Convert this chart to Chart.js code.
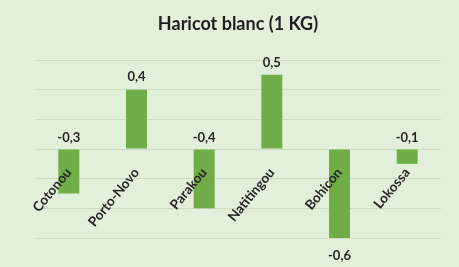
<!DOCTYPE html>
<html>
<head>
<meta charset="utf-8">
<script src="https://cdn.jsdelivr.net/npm/chart.js@4.4.1/dist/chart.umd.min.js"></script>
<style>
  html, body { margin: 0; padding: 0; background: #e2efda; }
  canvas { display: block; }
</style>
</head>
<body>
<canvas id="graphique" width="459" height="267"></canvas>
<script>
// données
const villes = ['Cotonou', 'Porto-Novo', 'Parakou', 'Natitingou', 'Bohicon', 'Lokossa'];
const variations = [-0.3, 0.4, -0.4, 0.5, -0.6, -0.1];
const axeMin = -0.6;
const axeMax = 0.6;
const axePas = 0.2;

const vert = '#70ad47';
const texte = '#262626';
const police = "Lato, 'Open Sans', 'DejaVu Sans', sans-serif";

// format français : 0,4 / -0,3
function formatVal(v) {
    return v.toFixed(1).replace('.', ',');
}

// étiquettes des villes posées sous l'axe zéro, inclinées
const etiquettesVilles = {
    id: 'etiquettesVilles',
    afterDatasetsDraw(chart) {
        const ctx = chart.ctx;
        const x = chart.scales.x;
        const y0 = chart.scales.y.getPixelForValue(0);
        ctx.save();
        ctx.font = 'bold 13.5px ' + police;
        ctx.fillStyle = texte;
        ctx.textAlign = 'right';
        ctx.textBaseline = 'middle';
        villes.forEach((nom, i) => {
            const px = x.getPixelForValue(i);
            ctx.save();
            ctx.translate(px, y0 + 21);
            ctx.rotate(-0.28 * Math.PI);
            ctx.fillText(nom, 0, 0);
            ctx.restore();
        });
        ctx.restore();
    }
};

// valeurs au-dessus / au-dessous des barres
const etiquettesValeurs = {
    id: 'etiquettesValeurs',
    afterDatasetsDraw(chart) {
        const ctx = chart.ctx;
        const meta = chart.getDatasetMeta(0);
        const plusBas = Math.min(...variations);
        ctx.save();
        ctx.font = 'bold 13px ' + police;
        ctx.fillStyle = texte;
        ctx.textAlign = 'center';
        meta.data.forEach((barre, i) => {
            const v = variations[i];
            if (v >= 0) {
                ctx.textBaseline = 'bottom';
                ctx.fillText(formatVal(v), barre.x, barre.y - 6);
            } else if (v === plusBas) {
                ctx.textBaseline = 'top';
                ctx.fillText(formatVal(v), barre.x, barre.y + 11);
            } else {
                ctx.textBaseline = 'bottom';
                ctx.fillText(formatVal(v), barre.x, barre.base - 5);
            }
        });
        ctx.restore();
    }
};

new Chart(document.getElementById('graphique'), {
    type: 'bar',
    data: {
        labels: villes,
        datasets: [{
            data: variations,
            backgroundColor: vert,
            borderWidth: 0,
            barPercentage: 0.31,
            categoryPercentage: 1
        }]
    },
    options: {
        responsive: false,
        animation: false,
        events: [],
        layout: {
            padding: { left: 35, right: 18, top: 0, bottom: 29 }
        },
        plugins: {
            legend: { display: false },
            tooltip: { enabled: false },
            title: {
                display: true,
                text: 'Haricot blanc (1 KG)',
                color: '#1f1f1f',
                font: { family: police, size: 18, weight: 'bold' },
                padding: { top: 13, bottom: 25.4 }
            }
        },
        scales: {
            x: { display: false },
            y: {
                min: axeMin,
                max: axeMax,
                ticks: { display: false, stepSize: axePas },
                grid: { color: '#cddbc3', lineWidth: 1, drawTicks: false },
                border: { display: false }
            }
        }
    },
    plugins: [etiquettesVilles, etiquettesValeurs]
});
</script>
</body>
</html>
